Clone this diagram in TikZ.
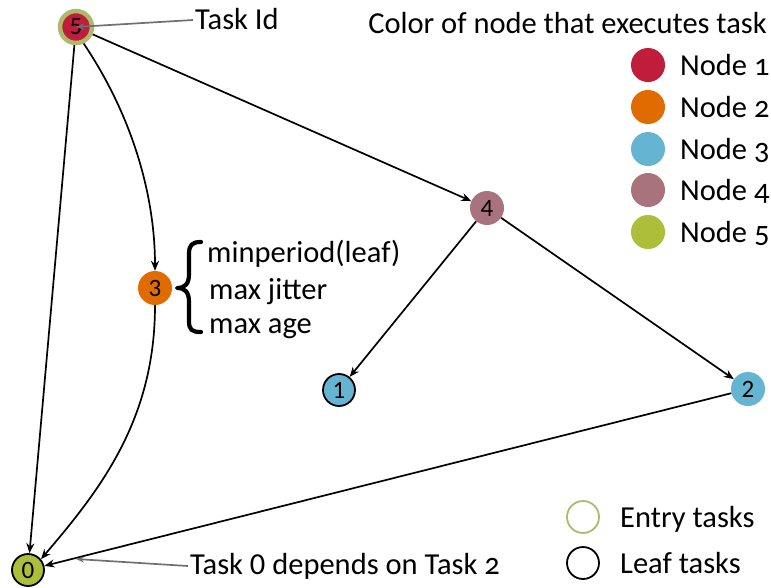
\documentclass[tikz,border=0pt]{standalone}
\usepackage{fontspec}
\setmainfont{Carlito}
\usetikzlibrary{arrows.meta}

\definecolor{nodeone}{RGB}{192,28,60}
\definecolor{nodetwo}{RGB}{224,108,0}
\definecolor{nodethree}{RGB}{100,180,210}
\definecolor{nodefour}{RGB}{168,115,124}
\definecolor{nodefive}{RGB}{172,190,58}
\definecolor{entryring}{RGB}{174,186,106}
\definecolor{notegray}{RGB}{112,112,112}

\tikzset{
  task/.style={circle, inner sep=0pt, minimum size=34pt, font=\fontsize{25}{25}\selectfont},
  leafring/.style={draw=black, line width=1.8pt, minimum size=32pt},
  entry/.style={draw=entryring, line width=4.5pt, minimum size=32pt},
  dep/.style={-{Stealth[length=10pt,width=8pt]}, line width=1.7pt},
  note/.style={-{Stealth[length=8pt,width=6pt]}, draw=notegray, line width=1.7pt},
  lbl/.style={anchor=base west, inner sep=0pt, font=\fontsize{30.5}{30.5}\selectfont},
  swatch/.style={circle, inner sep=0pt, minimum size=34pt},
  legring/.style={circle, inner sep=0pt, minimum size=32pt, line width=1.8pt},
}

\begin{document}
\begin{tikzpicture}[x=1pt, y=-1pt]
\useasboundingbox (0,0) rectangle (771,587);

% task graph
\node[task, entry, fill=nodeone] (t5) at (76,27) {5};
\node[task, fill=nodetwo] (t3) at (155,288) {3};
\node[task, fill=nodefour] (t4) at (487,208) {4};
\node[task, leafring, fill=nodethree] (t1) at (339,390) {1};
\node[task, fill=nodethree] (t2) at (748,389) {2};
\node[task, leafring, fill=nodefive] (t0) at (28,570) {0};

\draw[dep] (t5) -- (t0);
\draw[dep] (t5.-65) .. controls (135,120) and (155,200) .. (t3.north);
\draw[dep] (t5) -- (t4);
\draw[dep] (t3.south) .. controls (155,420) and (100,490) .. (t0.40);
\draw[dep] (t4) -- (t1);
\draw[dep] (t4) -- (t2);
\draw[dep] (t2) -- (t0);

% annotations
\node[lbl] (tid) at (195,29) {Task Id};
\coordinate (tidend) at (193,20);
\draw[note] (tidend) -- (t5.center);
\node[lbl] (dependnote) at (190,574) {Task 0 depends on Task {\addfontfeature{Numbers=OldStyle}2}};
\coordinate (depstart) at (188,566);
\coordinate (depend) at (76,559);
\draw[note] (depstart) -- (depend);

% brace with latency properties
\coordinate (bracetip) at (177,288);
\draw[line width=4.2pt, line cap=round, line join=round]
  (201,242) .. controls (192,242) and (189,245) .. (189,254) -- (189,274)
  .. controls (189,284) and (185,288) .. (bracetip)
  .. controls (185,288) and (189,292) .. (189,302) -- (189,321)
  .. controls (189,330) and (192,332) .. (201,332);
\node[lbl] (mp) at (207,262) {minperiod(leaf)};
\node[lbl] (mj) at (209,299) {max jitter};
\node[lbl] (ma) at (209,333) {max age};

% legend: executing node colours
\node[lbl, anchor=base east] (legtitle) at (767,33) {Color of node that executes task};
\foreach \c/\k/\y in {nodeone/1/65, nodetwo/2/107, nodethree/3/149, nodefour/4/190, nodefive/5/232}{
  \node[swatch, fill=\c] (sw\k) at (648,\y) {};
  \node[lbl, font=\fontsize{30.5}{30.5}\selectfont\addfontfeature{Numbers=OldStyle}] (swl\k) at (680,\y+10) {Node \k};
}

% legend: entry and leaf tasks
\node[legring, draw=entryring] (entrysw) at (583,517) {};
\node[lbl] (entrylbl) at (620,527) {Entry tasks};
\node[legring, draw=black] (leafsw) at (583,563) {};
\node[lbl] (leaflbl) at (620,573) {Leaf tasks};
\end{tikzpicture}
\end{document}
